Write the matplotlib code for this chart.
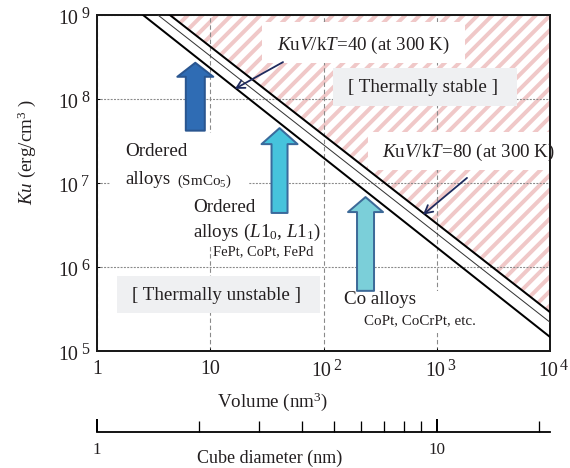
import numpy as np
import matplotlib
matplotlib.use('Agg')
import matplotlib.pyplot as plt
from matplotlib.patches import Rectangle
from matplotlib.ticker import NullLocator, FixedLocator, NullFormatter

plt.rcParams['font.family'] = 'Liberation Serif'
plt.rcParams['mathtext.fontset'] = 'custom'
plt.rcParams['mathtext.rm'] = 'Liberation Serif'
plt.rcParams['mathtext.it'] = 'Liberation Serif:italic'
plt.rcParams['mathtext.bf'] = 'Liberation Serif:bold'

DPI = 87
W, H = 570, 468


def pt(px):
    # pixel size -> points at this dpi
    return px * 72.0 / DPI


# axis ticks
x_ticks = [1, 10, 100, 1000, 10000]
y_ticks = [1e5, 1e6, 1e7, 1e8, 1e9]
d_major = [1, 10]
d_minor = [2, 3, 4, 5, 6, 7, 8, 9, 20]

# stability lines, read at the top edge and at the right edge of the plot
line40_v = [2.55, 1e4]
line40_ku = [1e9, 1.47e5]
linemid_v = [3.45, 1e4]
linemid_ku = [1e9, 2.2e5]
line80_v = [4.4, 1e4]
line80_ku = [1e9, 2.9e5]

# material arrows: volume, Ku at foot, Ku at tip
arrow_v = [7.38, 40.9, 235]
arrow_lo = [4.2e7, 4.4e6, 5.2e5]
arrow_hi = [2.7e8, 4.5e7, 6.8e6]
arrow_fc = ['#2f6cb4', '#46c3dc', '#7bcfd9']
arrow_ec = ['#2a5690', '#3a6a9c', '#3d6a98']
arrow_tail = [19, 16, 17]
arrow_head = [36, 36, 35]
arrow_hlen = [14, 16, 15]

TXT = '#231f20'
GRID = '#8a8a8a'
PINK = '#f0c8c8'

plt.rcParams['hatch.linewidth'] = pt(4)
plt.rcParams['hatch.color'] = PINK

fig = plt.figure(figsize=(W / DPI, H / DPI), dpi=DPI)
AX_L, AX_T, AX_W, AX_H = 97, 15, 453, 336
ax = fig.add_axes([AX_L / W, 1 - (AX_T + AX_H) / H, AX_W / W, AX_H / H])
ax.set_xscale('log')
ax.set_yscale('log')
ax.set_xlim(1, 1e4)
ax.set_ylim(1e5, 1e9)


def fx(px):
    return (px - AX_L) / AX_W


def fy(py):
    return (AX_T + AX_H - py) / AX_H


def box(x0, y0, x1, y1, color):
    ax.add_patch(Rectangle((fx(x0), fy(y1)), (x1 - x0) / AX_W, (y1 - y0) / AX_H,
                           transform=ax.transAxes, fc=color, ec='none', zorder=2))


def put(s, px, py, size, ha='left', va='center'):
    ax.text(fx(px), fy(py), s, transform=ax.transAxes, fontsize=pt(size),
            ha=ha, va=va, color=TXT, zorder=5)


# hatched stable region
ax.fill_between(line80_v, line80_ku, 1e9, facecolor='none', edgecolor=PINK,
                hatch='//', linewidth=0, zorder=1)

# grid
ax.set_axisbelow('line')
ax.xaxis.set_major_locator(FixedLocator(x_ticks))
ax.yaxis.set_major_locator(FixedLocator(y_ticks))
ax.xaxis.set_minor_locator(NullLocator())
ax.yaxis.set_minor_locator(NullLocator())
ax.xaxis.grid(True, color=GRID, lw=pt(1.1), ls=(0, (4, 2.5)))
ax.yaxis.grid(True, color=GRID, lw=pt(1.1), ls=(0, (1.8, 1.2)))
ax.tick_params(which='major', direction='in', length=pt(3), width=pt(1),
               labelleft=False, labelbottom=False)
for s in ax.spines.values():
    s.set_linewidth(pt(2))
    s.set_color('#1a1a1a')

# boxes behind the labels
box(262, 22, 465, 63, 'white')
box(368, 132, 550, 170, 'white')
box(110, 133, 248, 196, 'white')
box(186, 196, 322, 245, 'white')
box(213, 245, 320, 259, 'white')
box(340, 291, 482, 333, 'white')
box(333, 68, 517, 106, '#eff0f2')
box(117, 276, 320, 313, '#eff0f2')

# stability lines
ax.plot(line40_v, line40_ku, color='black', lw=pt(2), zorder=3)
ax.plot(linemid_v, linemid_ku, color='#333333', lw=pt(1), zorder=3)
ax.plot(line80_v, line80_ku, color='black', lw=pt(2), zorder=3)

# material arrows
for v, lo, hi, fc, ec, tw, hw, hl in zip(arrow_v, arrow_lo, arrow_hi, arrow_fc,
                                         arrow_ec, arrow_tail, arrow_head, arrow_hlen):
    style = 'simple,head_width=%.2f,head_length=%.2f,tail_width=%.2f' % (pt(hw), pt(hl), pt(tw))
    ax.annotate('', xy=(v, hi), xytext=(v, lo),
                arrowprops=dict(arrowstyle=style, mutation_scale=1, fc=fc, ec=ec,
                                lw=pt(2), shrinkA=0, shrinkB=0), zorder=4)

# pointer arrows to the lines
nav = dict(arrowstyle='->,head_length=0.65,head_width=0.35', mutation_scale=10,
           color='#1f2b5e', lw=pt(1.8), shrinkA=0, shrinkB=0)
ax.annotate('', xy=(16.5, 1.32e8), xytext=(43.9, 2.75e8), arrowprops=nav, zorder=4)
ax.annotate('', xy=(757, 4.2e6), xytext=(1850, 1.15e7), arrowprops=nav, zorder=4)

# labels inside the plot
put(r'$K$u$V$/k$T$=40 (at 300 K)', 277, 45, 19)
put(r'$K$u$V$/k$T$=80 (at 300 K)', 382, 152, 19)
put('[ Thermally stable ]', 423, 87, 19, ha='center')
put('[ Thermally unstable ]', 217, 295, 19, ha='center')
put('Ordered', 125, 152, 19)
put('alloys', 125, 180, 19)
put(r'(SmCo$_5$)', 177, 181, 15)
put('Ordered', 193, 207, 19)
put(r'alloys ($L$1$_0$, $L$1$_1$)', 193, 232, 19)
put('FePt, CoPt, FePd', 213, 252, 14.5)
put('Co alloys', 344, 300, 19)
put('CoPt, CoCrPt, etc.', 364, 321, 15)

# tick labels, with the exponent nearly full size as in the original
for t in y_ticks:
    e = int(round(np.log10(t)))
    ax.annotate('10', xy=(0, t), xycoords=('axes fraction', 'data'),
                xytext=(pt(-19), pt(-5)), textcoords='offset points',
                ha='right', va='center', fontsize=pt(20), color=TXT, annotation_clip=False)
    ax.annotate(str(e), xy=(0, t), xycoords=('axes fraction', 'data'),
                xytext=(pt(-16), pt(1)), textcoords='offset points',
                ha='left', va='center', fontsize=pt(16), color=TXT, annotation_clip=False)
for t in x_ticks:
    e = int(round(np.log10(t)))
    if e < 2:
        ax.annotate(str(int(t)), xy=(t, 0), xycoords=('data', 'axes fraction'),
                    xytext=(0, pt(-18)), textcoords='offset points',
                    ha='center', va='center', fontsize=pt(20), color=TXT, annotation_clip=False)
    else:
        ax.annotate('10', xy=(t, 0), xycoords=('data', 'axes fraction'),
                    xytext=(pt(8), pt(-21)), textcoords='offset points',
                    ha='right', va='center', fontsize=pt(20), color=TXT, annotation_clip=False)
        ax.annotate(str(e), xy=(t, 0), xycoords=('data', 'axes fraction'),
                    xytext=(pt(10), pt(-15)), textcoords='offset points',
                    ha='left', va='center', fontsize=pt(16), color=TXT, annotation_clip=False)

fig.text(273 / W, 1 - 402 / H, r'Volume (nm$^3$)', ha='center', va='center',
         fontsize=pt(19), color=TXT)
fig.text(27 / W, 1 - 152 / H, r'$Ku$ (erg/cm$^3$ )', ha='center', va='center',
         rotation=90, fontsize=pt(19), color=TXT)

# cube diameter scale
ax2 = fig.add_axes([AX_L / W, 1 - 432 / H, AX_W / W, 0.0001])
ax2.patch.set_visible(False)
ax2.set_xscale('log')
ax2.set_xlim(1, 1e4 ** (1 / 3))
ax2.set_yticks([])
for side in ['top', 'left', 'right']:
    ax2.spines[side].set_visible(False)
ax2.spines['bottom'].set_linewidth(pt(1.8))
ax2.xaxis.set_major_locator(FixedLocator(d_major))
ax2.xaxis.set_minor_locator(FixedLocator(d_minor))
ax2.xaxis.set_minor_formatter(NullFormatter())
ax2.set_xticklabels([str(d) for d in d_major])
ax2.tick_params(which='major', direction='in', length=pt(13), width=pt(2),
                labelsize=pt(17), pad=pt(10), labelcolor=TXT)
ax2.tick_params(which='minor', direction='in', length=pt(11), width=pt(1.3))
fig.text(270 / W, 1 - 458 / H, 'Cube diameter (nm)', ha='center', va='center',
         fontsize=pt(18), color=TXT)

fig.savefig('out.png', dpi=DPI, facecolor='white')
